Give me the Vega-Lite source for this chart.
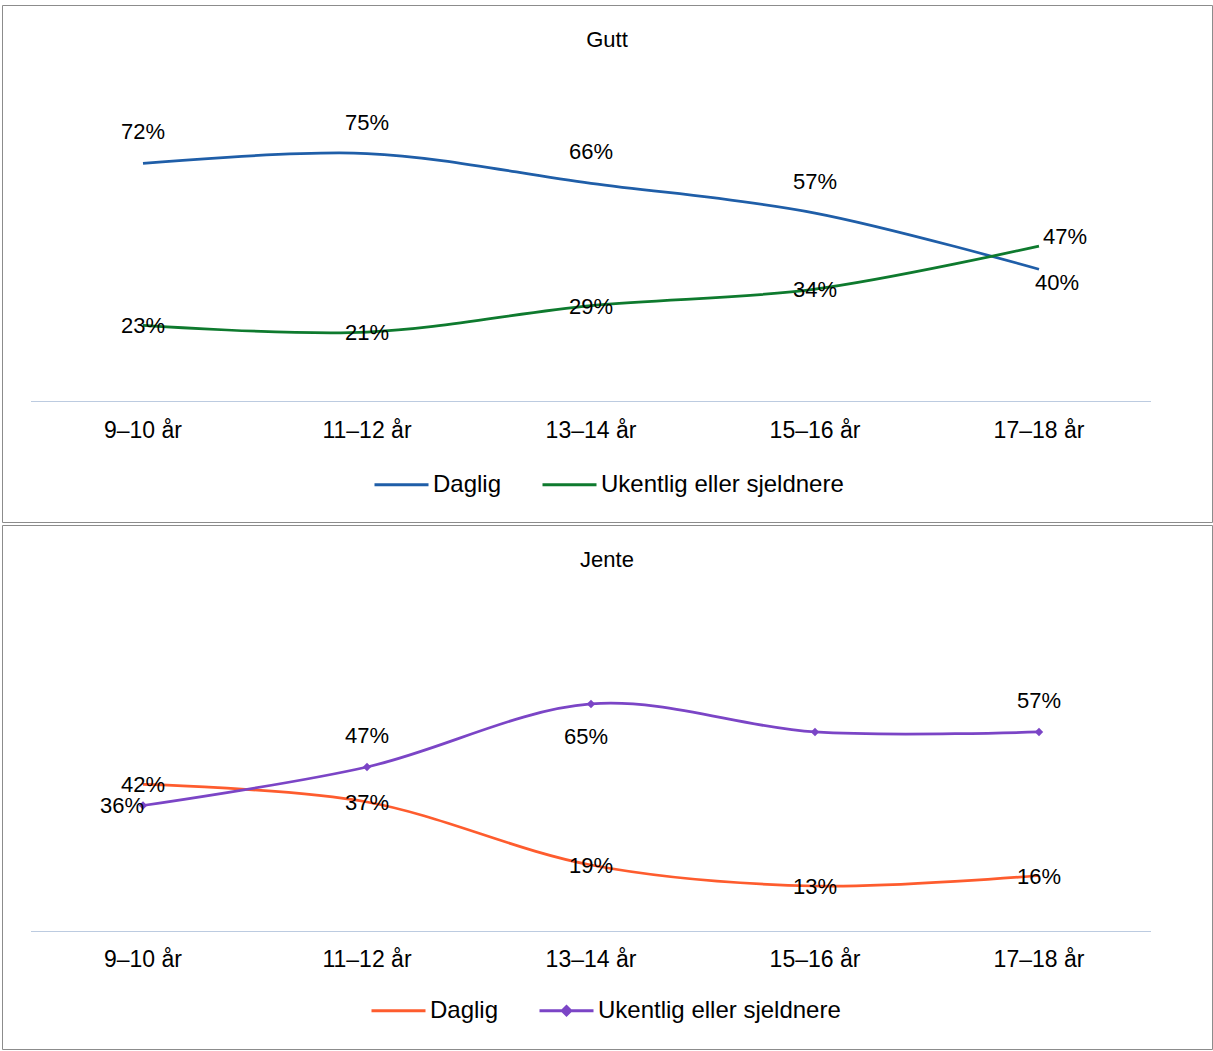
{
  "$schema": "https://vega.github.io/schema/vega-lite/v6.json",
  "padding": {"left": 1, "top": 4, "right": 2, "bottom": 2},
  "spacing": 1,
  "config": {
    "view": {"stroke": "#8c8c8c", "strokeWidth": 1},
    "font": "Liberation Sans",
    "title": {"fontSize": 22, "fontWeight": "normal", "color": "#000000", "font": "Liberation Sans", "anchor": "middle", "frame": "group"},
    "text": {"font": "Liberation Sans", "fontSize": 22, "color": "#000000", "baseline": "middle", "align": "center"}
  },
  "resolve": {"scale": {"color": "independent", "x": "independent", "y": "independent"}, "legend": {"color": "independent"}},
  "datasets": {
    "rows": [
      {"panel": "Gutt", "alder": "9–10 år", "serie": "Daglig", "verdi": 0.72},
      {"panel": "Gutt", "alder": "11–12 år", "serie": "Daglig", "verdi": 0.75},
      {"panel": "Gutt", "alder": "13–14 år", "serie": "Daglig", "verdi": 0.66},
      {"panel": "Gutt", "alder": "15–16 år", "serie": "Daglig", "verdi": 0.57},
      {"panel": "Gutt", "alder": "17–18 år", "serie": "Daglig", "verdi": 0.40},
      {"panel": "Gutt", "alder": "9–10 år", "serie": "Ukentlig eller sjeldnere", "verdi": 0.23},
      {"panel": "Gutt", "alder": "11–12 år", "serie": "Ukentlig eller sjeldnere", "verdi": 0.21},
      {"panel": "Gutt", "alder": "13–14 år", "serie": "Ukentlig eller sjeldnere", "verdi": 0.29},
      {"panel": "Gutt", "alder": "15–16 år", "serie": "Ukentlig eller sjeldnere", "verdi": 0.34},
      {"panel": "Gutt", "alder": "17–18 år", "serie": "Ukentlig eller sjeldnere", "verdi": 0.47},
      {"panel": "Jente", "alder": "9–10 år", "serie": "Daglig", "verdi": 0.42},
      {"panel": "Jente", "alder": "11–12 år", "serie": "Daglig", "verdi": 0.37},
      {"panel": "Jente", "alder": "13–14 år", "serie": "Daglig", "verdi": 0.19},
      {"panel": "Jente", "alder": "15–16 år", "serie": "Daglig", "verdi": 0.13},
      {"panel": "Jente", "alder": "17–18 år", "serie": "Daglig", "verdi": 0.16},
      {"panel": "Jente", "alder": "9–10 år", "serie": "Ukentlig eller sjeldnere", "verdi": 0.36},
      {"panel": "Jente", "alder": "11–12 år", "serie": "Ukentlig eller sjeldnere", "verdi": 0.47},
      {"panel": "Jente", "alder": "13–14 år", "serie": "Ukentlig eller sjeldnere", "verdi": 0.65},
      {"panel": "Jente", "alder": "15–16 år", "serie": "Ukentlig eller sjeldnere", "verdi": 0.57},
      {"panel": "Jente", "alder": "17–18 år", "serie": "Ukentlig eller sjeldnere", "verdi": 0.57}
    ]
  },
  "vconcat": [
    {
      "width": 1210,
      "height": 517,
      "title": {"text": "Gutt", "anchor": "middle", "frame": "group", "fontSize": 22, "fontWeight": "normal", "color": "#000000", "font": "Liberation Sans", "offset": -47},
      "data": {"name": "rows"},
      "transform": [{"filter": "datum.panel === 'Gutt'"}],
      "encoding": {
        "x": {
          "field": "alder", "type": "nominal", "sort": null,
          "scale": {"type": "band", "domain": ["9–10 år", "11–12 år", "13–14 år", "15–16 år", "17–18 år"], "paddingInner": 0, "paddingOuter": 0.2009, "align": 0.3222},
          "axis": {"orient": "bottom", "offset": -120, "domain": false, "ticks": false, "grid": false, "labelPadding": 17, "labelFontSize": 23, "labelFont": "Liberation Sans", "labelColor": "#000000", "labelAngle": 0, "title": null}
        }
      },
      "layer": [
        {
          "transform": [{"filter": "datum.serie === 'Daglig'"}],
          "mark": {"type": "rect", "fill": null, "fillOpacity": 0, "stroke": "#bccbe0", "strokeWidth": 1.2},
          "encoding": {
            "y": {"datum": 0, "type": "quantitative", "scale": {"domain": [-0.3645, 1.1993], "nice": false, "zero": false}, "axis": null},
            "y2": {"datum": 0}
          }
        },
        {
          "mark": {"type": "line", "interpolate": "cardinal", "strokeWidth": 2.75},
          "encoding": {
            "y": {"field": "verdi", "type": "quantitative", "axis": null},
            "color": {
              "field": "serie", "type": "nominal",
              "scale": {"domain": ["Daglig", "Ukentlig eller sjeldnere"], "range": ["#1f5ea8", "#0e7a2e"]},
              "legend": {"orient": "none", "legendX": 371, "legendY": 451, "direction": "horizontal", "title": null, "symbolType": "stroke", "symbolSize": 2916, "symbolStrokeWidth": 3, "labelFontSize": 24, "labelFont": "Liberation Sans", "labelColor": "#000000", "labelOffset": 3, "labelLimit": 0, "columnPadding": 34, "padding": 0}
            }
          }
        },
        {
          "transform": [{"filter": "datum.serie === 'Daglig' && datum.alder !== '17–18 år'"}],
          "mark": {"type": "text", "dy": -31},
          "encoding": {"y": {"field": "verdi", "type": "quantitative"}, "text": {"field": "verdi", "type": "quantitative", "format": ".0%"}}
        },
        {
          "transform": [{"filter": "datum.serie !== 'Daglig' && datum.alder !== '17–18 år'"}],
          "mark": {"type": "text", "dy": 1},
          "encoding": {"y": {"field": "verdi", "type": "quantitative"}, "text": {"field": "verdi", "type": "quantitative", "format": ".0%"}}
        },
        {
          "transform": [{"filter": "datum.serie === 'Daglig' && datum.alder === '17–18 år'"}],
          "mark": {"type": "text", "dx": 18, "dy": 14},
          "encoding": {"y": {"field": "verdi", "type": "quantitative"}, "text": {"field": "verdi", "type": "quantitative", "format": ".0%"}}
        },
        {
          "transform": [{"filter": "datum.serie !== 'Daglig' && datum.alder === '17–18 år'"}],
          "mark": {"type": "text", "dx": 26, "dy": -9},
          "encoding": {"y": {"field": "verdi", "type": "quantitative"}, "text": {"field": "verdi", "type": "quantitative", "format": ".0%"}}
        }
      ]
    },
    {
      "width": 1210,
      "height": 524,
      "title": {"text": "Jente", "anchor": "middle", "frame": "group", "fontSize": 22, "fontWeight": "normal", "color": "#000000", "font": "Liberation Sans", "offset": -47},
      "data": {"name": "rows"},
      "transform": [{"filter": "datum.panel === 'Jente'"}],
      "encoding": {
        "x": {
          "field": "alder", "type": "nominal", "sort": null,
          "scale": {"type": "band", "domain": ["9–10 år", "11–12 år", "13–14 år", "15–16 år", "17–18 år"], "paddingInner": 0, "paddingOuter": 0.2009, "align": 0.3222},
          "axis": {"orient": "bottom", "offset": -117.5, "domain": false, "ticks": false, "grid": false, "labelPadding": 17, "labelFontSize": 23, "labelFont": "Liberation Sans", "labelColor": "#000000", "labelAngle": 0, "title": null}
        }
      },
      "layer": [
        {
          "transform": [{"filter": "datum.serie === 'Daglig'"}],
          "mark": {"type": "rect", "fill": null, "fillOpacity": 0, "stroke": "#bccbe0", "strokeWidth": 1.2},
          "encoding": {
            "y": {"datum": 0, "type": "quantitative", "scale": {"domain": [-0.3357, 1.1614], "nice": false, "zero": false}, "axis": null},
            "y2": {"datum": 0}
          }
        },
        {
          "mark": {"type": "line", "interpolate": "cardinal", "strokeWidth": 2.75},
          "encoding": {
            "y": {"field": "verdi", "type": "quantitative", "axis": null},
            "color": {
              "field": "serie", "type": "nominal",
              "scale": {"domain": ["Daglig", "Ukentlig eller sjeldnere"], "range": ["#fe5c2e", "#7b45c6"]},
              "legend": {
                "orient": "none", "legendX": 368, "legendY": 457, "direction": "horizontal", "title": null, "symbolType": "stroke", "symbolSize": 2916, "symbolStrokeWidth": 3, "labelFontSize": 24, "labelFont": "Liberation Sans", "labelColor": "#000000", "labelOffset": 3, "labelLimit": 0, "columnPadding": 34, "padding": 0,
                "encode": {
                  "symbols": {
                    "update": {
                      "shape": [{"test": "datum.value === 'Daglig'", "value": "M-1,0H1"}, {"value": "M-1,0H1M0,-0.155L0.155,0L0,0.155L-0.155,0Z"}],
                      "fill": [{"test": "datum.value === 'Daglig'", "value": "transparent"}, {"value": "#7b45c6"}],
                      "fillOpacity": {"value": 1}
                    }
                  }
                }
              }
            }
          }
        },
        {
          "transform": [{"filter": "datum.serie !== 'Daglig'"}],
          "mark": {"type": "point", "shape": "diamond", "filled": true, "size": 70, "opacity": 1, "color": "#7b45c6"},
          "encoding": {"y": {"field": "verdi", "type": "quantitative"}}
        },
        {
          "transform": [{"filter": "datum.serie === 'Daglig'"}],
          "mark": {"type": "text", "dy": 1},
          "encoding": {"y": {"field": "verdi", "type": "quantitative"}, "text": {"field": "verdi", "type": "quantitative", "format": ".0%"}}
        },
        {
          "transform": [{"filter": "datum.serie !== 'Daglig' && datum.alder === '9–10 år'"}],
          "mark": {"type": "text", "dx": -21, "dy": 1},
          "encoding": {"y": {"field": "verdi", "type": "quantitative"}, "text": {"field": "verdi", "type": "quantitative", "format": ".0%"}}
        },
        {
          "transform": [{"filter": "datum.serie !== 'Daglig' && (datum.alder === '11–12 år' || datum.alder === '17–18 år')"}],
          "mark": {"type": "text", "dy": -31},
          "encoding": {"y": {"field": "verdi", "type": "quantitative"}, "text": {"field": "verdi", "type": "quantitative", "format": ".0%"}}
        },
        {
          "transform": [{"filter": "datum.serie !== 'Daglig' && datum.alder === '13–14 år'"}],
          "mark": {"type": "text", "dx": -5, "dy": 33},
          "encoding": {"y": {"field": "verdi", "type": "quantitative"}, "text": {"field": "verdi", "type": "quantitative", "format": ".0%"}}
        }
      ]
    }
  ]
}
